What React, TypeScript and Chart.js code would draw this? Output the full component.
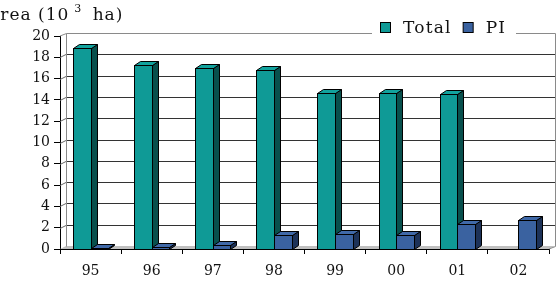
import React, { useEffect, useRef } from "react";
import { Chart, registerables } from "chart.js";

Chart.register(...registerables);

const categories = ["95", "96", "97", "98", "99", "00", "01", "02"];
const totalValues: (number | null)[] = [18.9, 17.3, 17.0, 16.8, 14.65, 14.65, 14.6, null];
const piValues: (number | null)[] = [0.1, 0.15, 0.37, 1.3, 1.4, 1.3, 2.35, 2.7];
const seriesNames = ["Total", "PI"];
const yTicks = { min: 0, max: 20, step: 2 };
const titleMain = "Area (10";
const titleSup = "3";
const titleEnd = " ha)";

const FONT = "'DejaVu Serif', serif";
const FRONT = ["#0F9A96", "#3A62A0"];
const SIDE = ["#08504D", "#1D3258"];
const TOP = ["#12A39E", "#4069A8"];
const BAR_DX = 6;
const BAR_DY = -4;
const WALL_DX = 6;
const WALL_DY = -3;

const threeD = {
  id: "threeD",
  beforeDatasetsDraw(chart: any) {
    const ctx = chart.ctx;
    const { left, right, top, bottom } = chart.chartArea;
    const y = chart.scales.y;
    ctx.save();
    ctx.fillStyle = "#C0C0C0";
    ctx.beginPath();
    ctx.moveTo(left, bottom);
    ctx.lineTo(left + WALL_DX, bottom + WALL_DY);
    ctx.lineTo(right + WALL_DX, bottom + WALL_DY);
    ctx.lineTo(right, bottom);
    ctx.closePath();
    ctx.fill();
    ctx.lineWidth = 1;
    for (let v = yTicks.min + yTicks.step; v < yTicks.max; v += yTicks.step) {
      const py = Math.round(y.getPixelForValue(v)) + 0.5;
      ctx.strokeStyle = "#333";
      ctx.beginPath();
      ctx.moveTo(left + WALL_DX, py + WALL_DY);
      ctx.lineTo(right + WALL_DX, py + WALL_DY);
      ctx.stroke();
      ctx.strokeStyle = "#666";
      ctx.beginPath();
      ctx.moveTo(left, py);
      ctx.lineTo(left + WALL_DX, py + WALL_DY);
      ctx.stroke();
    }
    ctx.strokeStyle = "#8A8A8A";
    const tY = Math.round(top) + 0.5 + WALL_DY;
    const bY = Math.round(bottom) + 0.5 + WALL_DY;
    const lX = Math.round(left) + 0.5 + WALL_DX;
    const rX = Math.round(right) + 0.5 + WALL_DX;
    ctx.beginPath();
    ctx.moveTo(left, top);
    ctx.lineTo(lX, tY);
    ctx.lineTo(rX, tY);
    ctx.lineTo(rX, bY);
    ctx.lineTo(right, bottom);
    ctx.moveTo(lX, tY);
    ctx.lineTo(lX, bY);
    ctx.stroke();
    ctx.restore();
  },
  afterDatasetsDraw(chart: any) {
    const ctx = chart.ctx;
    const metas = chart.data.datasets.map((_: any, i: number) => chart.getDatasetMeta(i));
    ctx.save();
    ctx.lineWidth = 1;
    ctx.strokeStyle = "#000";
    ctx.lineJoin = "miter";
    for (let c = 0; c < categories.length; c++) {
      metas.forEach((meta: any, di: number) => {
        const el = meta.data[c];
        const val = chart.data.datasets[di].data[c];
        if (!el || val === null || val === undefined) return;
        const l = Math.round(el.x - el.width / 2) + 0.5;
        const r = Math.round(el.x + el.width / 2) + 0.5;
        const t = Math.round(el.y) + 0.5;
        const b = Math.round(el.base) + 0.5;
        ctx.fillStyle = SIDE[di];
        ctx.beginPath();
        ctx.moveTo(r, t);
        ctx.lineTo(r + BAR_DX, t + BAR_DY);
        ctx.lineTo(r + BAR_DX, b + BAR_DY);
        ctx.lineTo(r, b);
        ctx.closePath();
        ctx.fill();
        ctx.stroke();
        ctx.fillStyle = TOP[di];
        ctx.beginPath();
        ctx.moveTo(l, t);
        ctx.lineTo(l + BAR_DX, t + BAR_DY);
        ctx.lineTo(r + BAR_DX, t + BAR_DY);
        ctx.lineTo(r, t);
        ctx.closePath();
        ctx.fill();
        ctx.stroke();
        ctx.fillStyle = FRONT[di];
        ctx.fillRect(l, t, r - l, b - t);
        ctx.strokeRect(l, t, r - l, b - t);
      });
    }
    ctx.restore();
  },
  afterDraw(chart: any) {
    const ctx = chart.ctx;
    ctx.save();
    ctx.fillStyle = "#111";
    ctx.textBaseline = "alphabetic";
    (ctx as any).letterSpacing = "1px";
    ctx.font = `17px ${FONT}`;
    let x = -13;
    ctx.fillText(titleMain, x, 20);
    x += ctx.measureText(titleMain).width + 5;
    ctx.font = `11px ${FONT}`;
    ctx.fillText(titleSup, x, 12);
    x += ctx.measureText(titleSup).width + 4;
    ctx.font = `17px ${FONT}`;
    ctx.fillText(titleEnd, x, 20);
    // legend
    (ctx as any).letterSpacing = "1.2px";
    ctx.fillStyle = "#fff";
    ctx.fillRect(372, 16, 144, 22);
    ctx.font = `17px ${FONT}`;
    let lx = 380;
    seriesNames.forEach((name, i) => {
      ctx.fillStyle = FRONT[i];
      ctx.fillRect(lx + 0.5, 22.5, 10, 10);
      ctx.strokeStyle = "#000";
      ctx.lineWidth = 1;
      ctx.strokeRect(lx + 0.5, 22.5, 10, 10);
      ctx.fillStyle = "#111";
      ctx.fillText(name, lx + 23, 33);
      lx += 23 + ctx.measureText(name).width + 11;
    });
    ctx.restore();
  },
};

export default function App() {
  const ref = useRef<HTMLCanvasElement | null>(null);
  useEffect(() => {
    if (!ref.current) return;
    const chart = new Chart(ref.current, {
      type: "bar",
      data: {
        labels: categories,
        datasets: [
          { label: seriesNames[0], data: totalValues, backgroundColor: "rgba(0,0,0,0)", borderWidth: 0 },
          { label: seriesNames[1], data: piValues, backgroundColor: "rgba(0,0,0,0)", borderWidth: 0 },
        ],
      },
      options: {
        responsive: false,
        animation: false,
        events: [],
        layout: { padding: { top: 36, right: 10, left: 0, bottom: 0 } },
        datasets: { bar: { categoryPercentage: 0.575, barPercentage: 1 } },
        plugins: { legend: { display: false }, tooltip: { enabled: false }, title: { display: false } },
        scales: {
          x: {
            afterFit: (s: any) => { s.height = 44; },
            grid: { offset: true, drawOnChartArea: false, drawTicks: true, tickLength: 5, color: "#000" },
            border: { display: true, color: "#000" },
            ticks: { font: { family: FONT, size: 14 }, color: "#111", padding: 9 },
          },
          y: {
            min: yTicks.min,
            max: yTicks.max,
            afterFit: (s: any) => { s.width = 60; },
            grid: { drawOnChartArea: false, drawTicks: true, tickLength: 6, color: "#000" },
            border: { display: true, color: "#000" },
            ticks: { stepSize: yTicks.step, font: { family: FONT, size: 14 }, color: "#111", padding: 4 },
          },
        },
      },
      plugins: [threeD],
    });
    return () => chart.destroy();
  }, []);
  return (
    <div style={{ position: "fixed", left: 0, top: 0, width: 559, height: 293, background: "#fff" }}>
      <canvas ref={ref} width={559} height={293} />
    </div>
  );
}
